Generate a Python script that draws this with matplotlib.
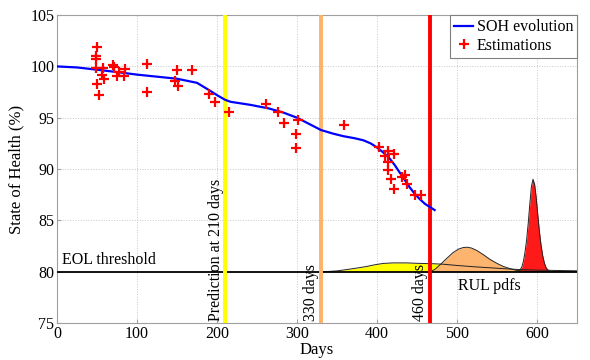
import matplotlib
matplotlib.use("Agg")
import matplotlib.pyplot as plt

plt.rcParams['font.family'] = ['Liberation Serif', 'DejaVu Serif']

# SOH evolution curve (days, %)
soh_days = [0, 25, 50, 75, 100, 125, 150, 175, 192, 200, 210, 217, 242, 265, 283,
            300, 315, 330, 345, 358, 372, 383, 392, 400, 408, 416, 422, 428, 435,
            441, 447, 453, 460, 466, 472]
soh_vals = [100.0, 99.9, 99.68, 99.45, 99.2, 99.0, 98.8, 98.4, 97.6, 97.2, 96.75,
            96.55, 96.25, 95.9, 95.5, 95.0, 94.4, 93.8, 93.45, 93.2, 93.0, 92.8,
            92.5, 92.1, 91.6, 91.0, 90.4, 89.7, 88.9, 88.2, 87.6, 87.1, 86.6, 86.3, 86.0]

# Estimations (days, %)
est_days = [49.6, 48.8, 48.8, 49, 57.9, 56.7, 59.2, 50, 52, 69.6, 71.7, 74.6, 78, 85,
            83.8, 112.9, 112.9, 149.6, 147.5, 151.7, 169, 190.4, 197.5, 215,
            261, 275.8, 284, 301.7, 298.8, 298.8, 359, 403, 414, 410.6, 421.7, 414,
            414, 418, 421.7, 431, 435, 437, 447, 455]
est_vals = [101.94, 100.97, 100.7, 99.84, 99.84, 99.2, 98.8, 98.3, 97.2, 100.1, 99.95,
            99.1, 99.45, 99.7, 99.1, 100.26, 97.5, 99.68, 98.55, 98.06, 99.68, 97.35,
            96.55, 95.55, 96.35, 95.55, 94.5, 94.77, 93.4, 92.03, 94.3, 92.1, 91.77,
            91.3, 91.45, 90.64, 89.93, 89.03, 88.06, 89.2, 89.45, 88.5, 87.48, 87.48]

eol = 80
pred_days = [210, 330, 466]
pred_labels = ["Prediction at 210 days", "330 days", "460 days"]
pred_colors = ['#FFFF00', '#FFB266', '#FF0000']

# RUL pdfs (days, height above EOL threshold)
pdf_y_days = [330, 340, 350, 362, 375, 387, 398, 408, 420, 437, 454, 470, 483, 500,
              520, 540, 560, 579, 600, 625, 650]
pdf_y_vals = [0.0, 0.02, 0.07, 0.2, 0.35, 0.5, 0.68, 0.8, 0.85, 0.85, 0.8, 0.77,
              0.72, 0.6, 0.48, 0.38, 0.28, 0.2, 0.15, 0.11, 0.08]
pdf_o_days = [466, 472, 480, 488, 495, 502, 508, 513, 518, 525, 533, 541, 550, 558,
              566, 574, 582, 600, 650]
pdf_o_vals = [0.0, 0.2, 0.75, 1.35, 1.85, 2.2, 2.35, 2.38, 2.3, 2.05, 1.65, 1.2, 0.8,
              0.5, 0.3, 0.12, 0.04, 0.01, 0.0]
pdf_r_days = [577, 579, 581, 583, 585, 587, 589, 591, 593, 595, 597, 599, 601, 603,
              605, 607, 609, 611, 613, 617]
pdf_r_vals = [0.05, 0.2, 0.45, 1.0, 1.9, 3.1, 4.7, 6.6, 8.3, 9.0, 8.5, 7.2, 5.5, 3.9,
              2.6, 1.6, 0.9, 0.45, 0.2, 0.0]
pdf_colors = ['#FFFF00', '#FDB46F', '#FF1A1A']

fig = plt.figure(figsize=(5.9, 3.6), dpi=100)
ax = fig.add_axes([0.0966, 0.103, 0.8814, 0.855])

ax.set_xlim(0, 650)
ax.set_ylim(75, 105)
ax.set_xticks(range(0, 700, 100))
ax.set_yticks(range(75, 106, 5))
ax.grid(True, linestyle=':', color='#c8c8c8', linewidth=0.7)
ax.set_axisbelow(True)
for s in ax.spines.values():
    s.set_color('#a0a0a0')
    s.set_linewidth(0.8)
ax.tick_params(direction='in', length=3, color='#a0a0a0', labelsize=11.5, pad=2)

# pdf fills
pdfs = [(pdf_y_days, pdf_y_vals), (pdf_o_days, pdf_o_vals), (pdf_r_days, pdf_r_vals)]
for (d, v), c in zip(pdfs, pdf_colors):
    ax.fill_between(d, [eol] * len(d), [eol + h for h in v], color=c, linewidth=0, zorder=2)
for (d, v), c in zip(pdfs, pdf_colors):
    ax.plot(d, [eol + h for h in v], color='#222222', linewidth=0.7, zorder=3)

# EOL line
ax.axhline(eol, color='black', linewidth=1.3, zorder=3)

# prediction lines
for d, c in zip(pred_days, pred_colors):
    ax.axvline(d, color=c, linewidth=2.8, zorder=4)

# texts
offs = [-11, -13, -12]
for d, lab, o in zip(pred_days, pred_labels, offs):
    ax.text(d + o, 75.2, lab, rotation=90, ha='center', va='bottom', fontsize=11.5, zorder=5)
ax.text(6, 80.35, "EOL threshold", ha='left', va='bottom', fontsize=11.5)
ax.text(540, 78.6, "RUL pdfs", ha='center', va='center', fontsize=11.5)

# SOH and estimations
ax.plot(soh_days, soh_vals, color='#0000FF', linewidth=1.6, zorder=6, label='SOH evolution')
ax.plot(est_days, est_vals, linestyle='none', marker='+', color='#FF0000', markersize=7,
        markeredgewidth=1.6, zorder=7, label='Estimations')

leg = ax.legend(loc='upper right', borderaxespad=0, fontsize=11.5, handlelength=1.2,
                handletextpad=0.2, borderpad=0.25, labelspacing=0.15, fancybox=False,
                framealpha=1)
leg.get_frame().set_edgecolor('#808080')
leg.get_frame().set_linewidth(0.8)

ax.set_xlabel("Days", fontsize=12, labelpad=0)
ax.set_ylabel("State of Health (%)", fontsize=12, labelpad=4)

fig.savefig("out.png", dpi=100)
